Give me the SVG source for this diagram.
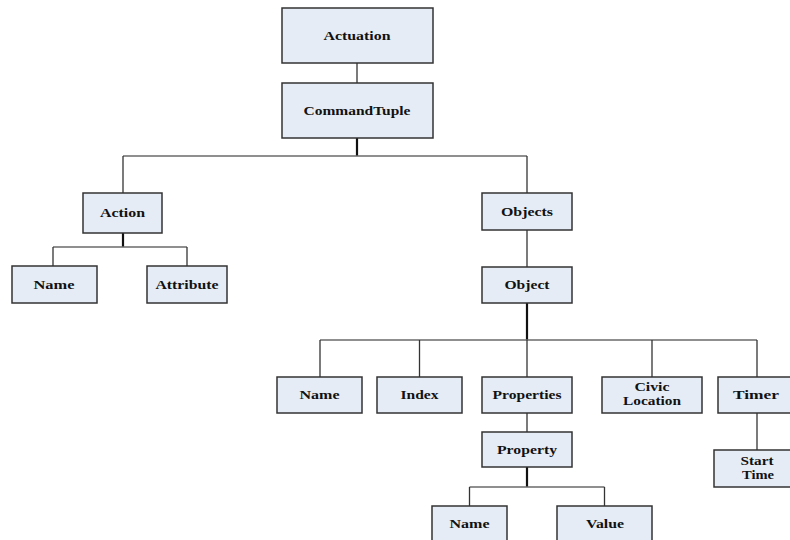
<svg xmlns="http://www.w3.org/2000/svg" width="790" height="540" viewBox="0 0 790 540">
  <style>
    .box { fill: #e6ecf6; stroke: #333; stroke-width: 1.5; }
    .lbl { font-family: "Liberation Serif", "Times New Roman", serif; font-weight: bold; font-size: 13px; fill: #111; text-anchor: middle; }
    .bus { stroke: #6a6a6a; stroke-width: 1.6; fill: none; }
    .stub { stroke: #111; stroke-width: 2.2; fill: none; }
    .drop { stroke: #333; stroke-width: 1.3; fill: none; }
  </style>
  <rect width="790" height="540" fill="#fff"/>

  <!-- connectors -->
  <g id="connectors">
    <line class="drop" x1="357" y1="63" x2="357" y2="83"/>
    <line class="stub" x1="357" y1="138" x2="357" y2="156"/>
    <line class="bus" x1="123" y1="156" x2="527" y2="156"/>
    <line class="drop" x1="123" y1="156" x2="123" y2="193"/>
    <line class="drop" x1="527" y1="156" x2="527" y2="193"/>

    <line class="stub" x1="123" y1="233" x2="123" y2="247"/>
    <line class="bus" x1="53" y1="247" x2="187" y2="247"/>
    <line class="drop" x1="53" y1="247" x2="53" y2="266"/>
    <line class="drop" x1="187" y1="247" x2="187" y2="266"/>

    <line class="drop" x1="527" y1="230" x2="527" y2="267"/>
    <line class="stub" x1="527" y1="303" x2="527" y2="340"/>
    <line class="bus" x1="320" y1="340" x2="757" y2="340"/>
    <line class="drop" x1="320" y1="340" x2="320" y2="377"/>
    <line class="drop" x1="419.5" y1="340" x2="419.5" y2="377"/>
    <line class="drop" x1="527" y1="340" x2="527" y2="377"/>
    <line class="drop" x1="652" y1="340" x2="652" y2="377"/>
    <line class="drop" x1="757" y1="340" x2="757" y2="377"/>

    <line class="drop" x1="527" y1="413" x2="527" y2="432"/>
    <line class="stub" x1="527" y1="467" x2="527" y2="487"/>
    <line class="bus" x1="469.5" y1="487" x2="604.5" y2="487"/>
    <line class="drop" x1="469.5" y1="487" x2="469.5" y2="506"/>
    <line class="drop" x1="604.5" y1="487" x2="604.5" y2="506"/>

    <line class="drop" x1="757" y1="413" x2="757" y2="450"/>
  </g>

  <!-- nodes -->
  <g id="actuation">
    <rect class="box" x="282" y="8" width="151" height="55"/>
    <text class="lbl" x="357" y="40" textLength="67" lengthAdjust="spacingAndGlyphs">Actuation</text>
  </g>
  <g id="commandtuple">
    <rect class="box" x="282" y="83" width="151" height="55"/>
    <text class="lbl" x="357" y="115" textLength="107" lengthAdjust="spacingAndGlyphs">CommandTuple</text>
  </g>
  <g id="action">
    <rect class="box" x="83" y="193" width="79" height="40"/>
    <text class="lbl" x="122.5" y="217" textLength="45" lengthAdjust="spacingAndGlyphs">Action</text>
  </g>
  <g id="action-name">
    <rect class="box" x="12" y="266" width="85" height="37"/>
    <text class="lbl" x="54" y="289" textLength="41" lengthAdjust="spacingAndGlyphs">Name</text>
  </g>
  <g id="attribute">
    <rect class="box" x="147" y="266" width="80" height="37"/>
    <text class="lbl" x="187" y="289" textLength="63" lengthAdjust="spacingAndGlyphs">Attribute</text>
  </g>
  <g id="objects">
    <rect class="box" x="482" y="193" width="90" height="37"/>
    <text class="lbl" x="527" y="216" textLength="52" lengthAdjust="spacingAndGlyphs">Objects</text>
  </g>
  <g id="object">
    <rect class="box" x="482" y="267" width="90" height="36"/>
    <text class="lbl" x="527" y="289" textLength="45" lengthAdjust="spacingAndGlyphs">Object</text>
  </g>
  <g id="object-name">
    <rect class="box" x="277" y="377" width="85" height="36"/>
    <text class="lbl" x="319.5" y="399" textLength="40" lengthAdjust="spacingAndGlyphs">Name</text>
  </g>
  <g id="index">
    <rect class="box" x="377" y="377" width="85" height="36"/>
    <text class="lbl" x="419.5" y="399" textLength="38" lengthAdjust="spacingAndGlyphs">Index</text>
  </g>
  <g id="properties">
    <rect class="box" x="482" y="377" width="90" height="36"/>
    <text class="lbl" x="527" y="399" textLength="69" lengthAdjust="spacingAndGlyphs">Properties</text>
  </g>
  <g id="civic-location">
    <rect class="box" x="602" y="377" width="100" height="36"/>
    <text class="lbl" x="652" y="391" textLength="35" lengthAdjust="spacingAndGlyphs">Civic</text>
    <text class="lbl" x="652" y="405" textLength="58" lengthAdjust="spacingAndGlyphs">Location</text>
  </g>
  <g id="timer">
    <rect class="box" x="718" y="377" width="80" height="36"/>
    <text class="lbl" x="756" y="399" textLength="46" lengthAdjust="spacingAndGlyphs">Timer</text>
  </g>
  <g id="property">
    <rect class="box" x="482" y="432" width="90" height="35"/>
    <text class="lbl" x="527" y="454" textLength="60" lengthAdjust="spacingAndGlyphs">Property</text>
  </g>
  <g id="start-time">
    <rect class="box" x="714" y="450" width="86" height="37"/>
    <text class="lbl" x="757" y="465" textLength="33" lengthAdjust="spacingAndGlyphs">Start</text>
    <text class="lbl" x="758" y="479" textLength="32" lengthAdjust="spacingAndGlyphs">Time</text>
  </g>
  <g id="property-name">
    <rect class="box" x="432" y="506" width="75" height="40"/>
    <text class="lbl" x="469.5" y="528" textLength="40" lengthAdjust="spacingAndGlyphs">Name</text>
  </g>
  <g id="value">
    <rect class="box" x="557" y="506" width="95" height="40"/>
    <text class="lbl" x="605" y="528" textLength="38" lengthAdjust="spacingAndGlyphs">Value</text>
  </g>
</svg>
